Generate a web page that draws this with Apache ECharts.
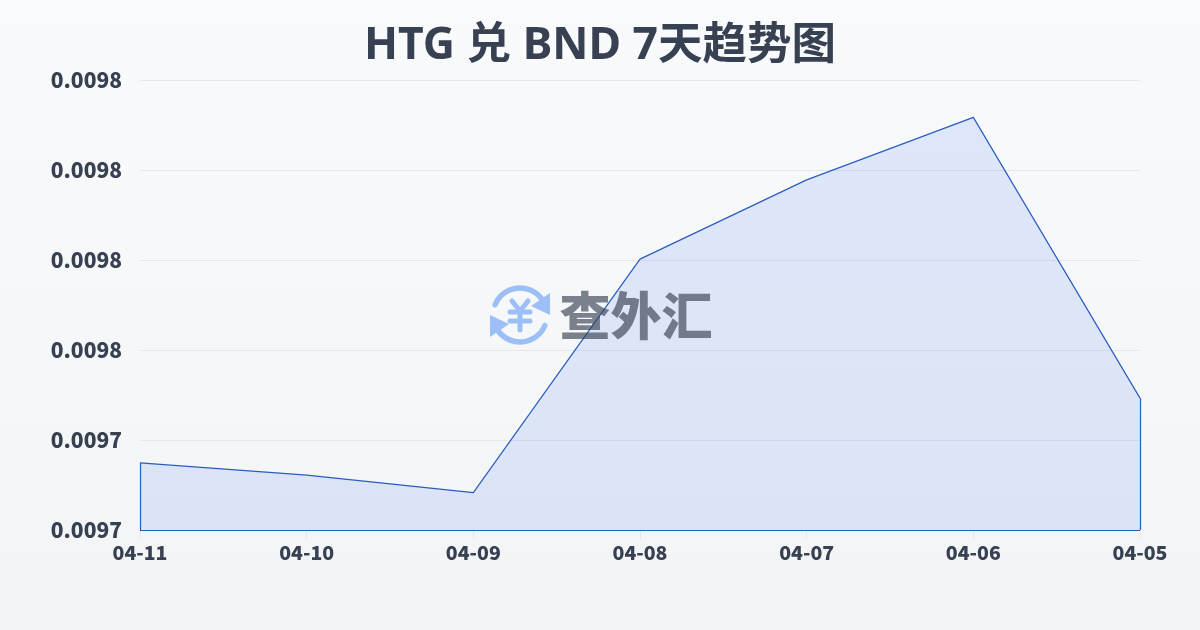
<!DOCTYPE html>
<html><head><meta charset="utf-8">
<style>html,body{margin:0;padding:0;width:1200px;height:630px;overflow:hidden}#c{width:1200px;height:630px}</style>
<script src="https://cdn.jsdelivr.net/npm/echarts@6/dist/echarts.min.js"></script>
</head><body><div id="c"></div>
<script>
const titleText = 'HTG 兑 BND 7天趋势图';
const categories = ['04-11','04-10','04-09','04-08','04-07','04-06','04-05'];
const rates = [0.0097349,0.0097322,0.0097283,0.0097802,0.0097978,0.0098117,0.0097493];
const axisMin = 0.00972, axisMax = 0.00982, axisStep = 0.00002;
const blue = '#2a5cc0', ink = '#374151';
const edge = (a,b)=>[{coord:a},{coord:b}];
const chart = echarts.init(document.getElementById('c'),null,{renderer:'canvas'});
const logo = '#9dbff8';
chart.setOption({
  animation:false,
  backgroundColor:new echarts.graphic.LinearGradient(0,0,0,1,[{offset:0,color:'#f8fafc'},{offset:1,color:'#f3f4f6'}]),
  title:{text:titleText,left:'center',top:19,textStyle:{fontFamily:'"Noto Sans","Noto Sans CJK SC"',fontSize:44.5,fontWeight:'bold',color:'#374151'}},
  grid:{left:140,right:60,top:80,bottom:100},
  xAxis:{type:'category',data:categories,boundaryGap:false,
    axisLine:{show:false},axisTick:{show:true,length:9,lineStyle:{color:'#e5e7eb'}},
    axisLabel:{fontFamily:'Noto Sans CJK SC',fontSize:19.5,fontWeight:900,color:ink,margin:13,hideOverlap:false,interval:0}},
  yAxis:{type:'value',min:axisMin,max:axisMax,interval:axisStep,
    axisLine:{show:false},axisTick:{show:false},
    splitLine:{lineStyle:{color:'#e5e7eb',width:1}},
    axisLabel:{fontFamily:'Noto Sans CJK SC',fontSize:21,fontWeight:900,color:ink,margin:18,padding:[0,0,2,0],formatter:v=>v.toFixed(4)}},
  series:[{type:'line',data:rates,symbol:'none',smooth:false,
    lineStyle:{color:blue,width:1.2},
    areaStyle:{color:'rgba(37,99,235,0.17)',origin:'start'},
    markLine:{silent:true,symbol:'none',label:{show:false},animation:false,
      lineStyle:{color:blue,width:1.2,type:'solid'},
      data:[
        edge([0,axisMin],[0,rates[0]]),
        edge([0,axisMin],[categories.length-1,axisMin]),
        edge([categories.length-1,axisMin],[categories.length-1,rates[rates.length-1]])
      ]}}],
  graphic:{elements:[
    {type:'group',x:520,y:315,z:100,children:[
      {type:'arc',shape:{cx:0,cy:0,r:27,startAngle:-2.75,endAngle:-0.45},style:{fill:null,stroke:logo,lineWidth:5.5,lineCap:'round'}},
      {type:'arc',shape:{cx:0,cy:0,r:27,startAngle:0.4,endAngle:2.7},style:{fill:null,stroke:logo,lineWidth:5.5,lineCap:'round'}},
      {type:'polygon',shape:{points:[[30,-22],[30,0],[11,-9]]},style:{fill:logo}},
      {type:'polygon',shape:{points:[[-30,22],[-30,0],[-11,9]]},style:{fill:logo}},
      {type:'polyline',shape:{points:[[-8,-14],[0,-4],[8,-14]]},style:{fill:null,stroke:logo,lineWidth:5,lineCap:'round'}},
      {type:'polyline',shape:{points:[[-10,-3],[10,-3]]},style:{fill:null,stroke:logo,lineWidth:5,lineCap:'round'}},
      {type:'polyline',shape:{points:[[-10,6],[10,6]]},style:{fill:null,stroke:logo,lineWidth:5,lineCap:'round'}},
      {type:'polyline',shape:{points:[[0,-4],[0,15]]},style:{fill:null,stroke:logo,lineWidth:5,lineCap:'round'}}
    ]},
    {type:'text',x:636,y:316,z:100,style:{text:'查外汇',align:'center',verticalAlign:'middle',fontFamily:'Noto Sans CJK SC',fontWeight:900,fontSize:51,fill:'rgba(55,65,81,0.65)'}}
  ]}
});
</script></body></html>
